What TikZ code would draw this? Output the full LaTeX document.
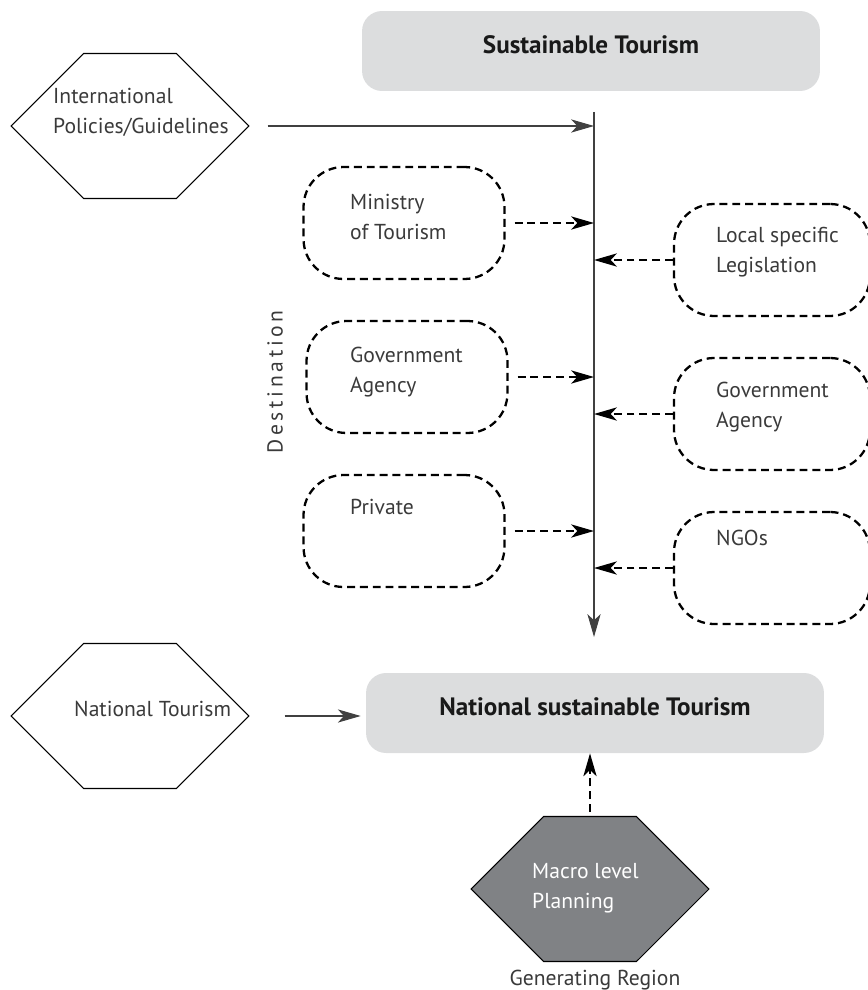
\documentclass[tikz,border=0pt]{standalone}
\usepackage{fontspec}
\setmainfont{PT Sans}
\usepackage{tikz}
\usetikzlibrary{arrows.meta}
\usetikzlibrary{shapes.symbols}

\definecolor{boxgray}{HTML}{DCDDDE}
\definecolor{hexgray}{HTML}{808285}
\definecolor{inkgray}{HTML}{3A3A3A}

\tikzset{
  headbox/.style={rectangle, rounded corners=0.4cm, fill=boxgray, minimum width=9.16cm, minimum height=1.6cm, inner sep=0pt, text depth=0.24cm, text=black!90, font=\bfseries\fontsize{14.3}{16}\selectfont},
  actor/.style={rectangle, rounded corners=0.8cm, draw=black, line width=1.3pt, dash pattern=on 4.5pt off 2.8pt, minimum width=4.02cm, minimum height=2.24cm, inner sep=0pt},
  hexa/.style={signal, signal to=west and east, signal pointer angle=90, draw=black, line width=0.6pt, minimum width=4.76cm, minimum height=2.9cm, inner sep=0pt},
  lbl/.style={anchor=west, align=left, text=inkgray, font=\fontsize{12.3}{17}\selectfont},
  feed/.style={draw=black!75, line width=0.6pt, -{Stealth[length=13pt,width=7.5pt,inset=3.5pt]}},
  dfeed/.style={draw=black, line width=1.3pt, dash pattern=on 4.5pt off 2.8pt, -{Stealth[length=13pt,width=7.5pt,inset=3.5pt]}},
}

\begin{document}
\begin{tikzpicture}[x=0.02cm, y=-0.02cm]
    \useasboundingbox (0,0) rectangle (868,990);
    % goals
    \node[headbox] (top) at (591,51) {Sustainable Tourism};
    \node[headbox] (natbox) at (595,713) {National sustainable Tourism};
    % inputs
    \node[hexa] (intl) at (130,126) {};
    \node[hexa] (natl) at (130,716) {};
    \node[hexa, fill=hexgray] (macro) at (590,889) {};
    \node[lbl] (intltxt) at (47,112) {International\\Policies/Guidelines};
    \node[lbl] (natltxt) at (68,709) {National Tourism};
    \node[lbl, text=white] (macrotxt) at (526,888) {Macro level\\Planning};
    \node[lbl, anchor=center] (gentxt) at (595,980) {Generating Region};
    % destination actors
    \node[actor] (min) at (404,223) {};
    \node[actor] (govl) at (407,377) {};
    \node[actor] (priv) at (404,531) {};
    \node[actor, minimum width=3.92cm] (loc) at (772,260) {};
    \node[actor, minimum width=3.92cm] (govr) at (772,414) {};
    \node[actor, minimum width=3.92cm] (ngo) at (772,568) {};
    \node[lbl] (mintxt) at (344,217) {Ministry\\of Tourism};
    \node[lbl] (govltxt) at (344,372) {Government\\Agency};
    \node[lbl] (privtxt) at (344,507) {Private};
    \node[lbl] (loctxt) at (710,252) {Local specific\\Legislation};
    \node[lbl] (govrtxt) at (710,407) {Government\\Agency};
    \node[lbl] (ngotxt) at (710,538) {NGOs};
    \node[lbl, anchor=center, rotate=90] (desttxt) at (275,382) {\addfontfeature{LetterSpace=17}Destination};
    % spine
    \coordinate (spinetop) at (594,112);
    \coordinate (spinebot) at (594,637);
    \draw[feed] (spinetop) -- (spinebot);
    \draw[feed] ([xshift=0.36cm]intl.east) -- (intl.east -| spinetop);
    \foreach \a in {min,govl,priv}
        \draw[dfeed] ([xshift=0.18cm]\a.east) -- (\a.east -| spinetop);
    \foreach \a in {loc,govr,ngo}
        \draw[dfeed] (\a.west) -- (\a.west -| spinetop);
    \draw[feed] ([xshift=0.7cm]natl.east) -- ([xshift=-0.1cm]natl.east -| natbox.west);
    \draw[dfeed] ([yshift=0.08cm]macro.north) -- (macro.north |- natbox.south);
\end{tikzpicture}
\end{document}
